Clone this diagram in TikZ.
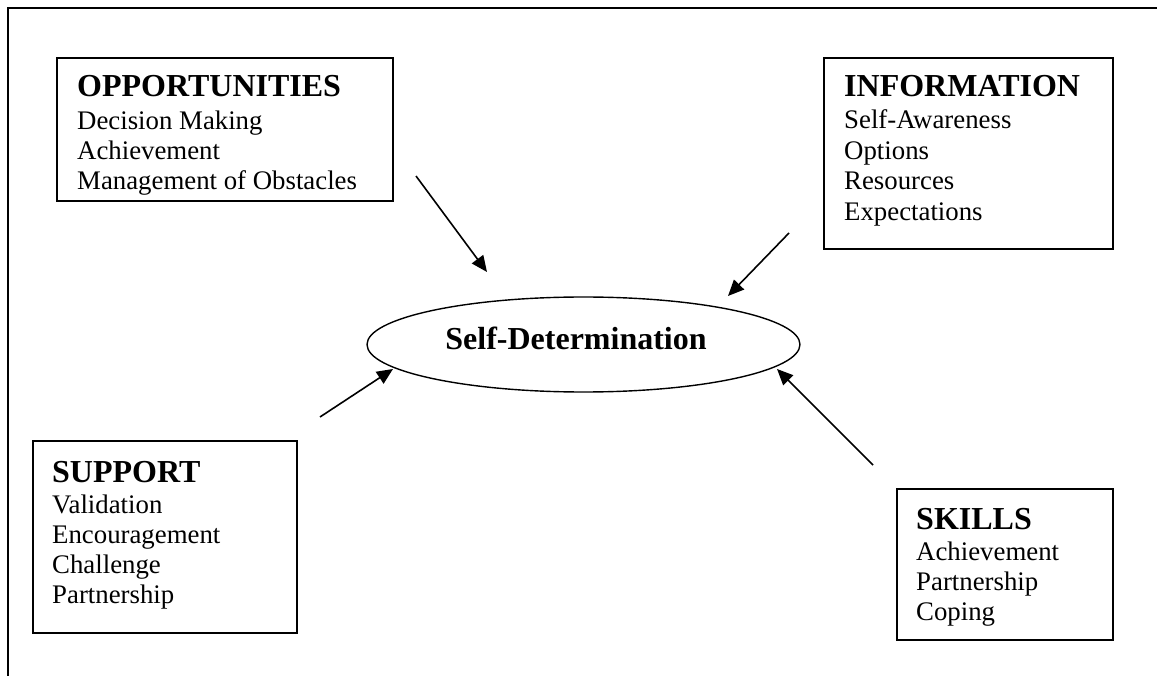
\documentclass[tikz,border=0pt]{standalone}
\usepackage{fontspec}
\setmainfont{Liberation Serif}
\usetikzlibrary{arrows.meta,shapes.geometric}
\tikzset{
  box/.style={draw, line width=1.6pt, fill=white, inner sep=0pt, anchor=north west},
  head/.style={anchor=base west, inner sep=0pt, font=\fontsize{32}{36}\selectfont\bfseries},
  item/.style={anchor=base west, inner sep=0pt, font=\fontsize{26.8}{30}\selectfont},
  link/.style={line width=1.6pt, -{Triangle[length=16pt,width=14pt]}},
  frame/.style={line width=2pt},
}
\begin{document}
\begin{tikzpicture}[x=1pt,y=-1pt]
\useasboundingbox (0,0) rectangle (1157,676);

% outer frame (top and left sides)
\draw[frame] (1157,8) -- (8,8) -- (8,676);

% boxes
\node[box, minimum width=336pt, minimum height=143pt] (opp)  at (56,57)   {};
\node[box, minimum width=289pt, minimum height=191pt] (info) at (823,57)  {};
\node[box, minimum width=264pt, minimum height=192pt] (supp) at (32,440)  {};
\node[box, minimum width=216pt, minimum height=151pt] (skil) at (896,488) {};

% OPPORTUNITIES (text clipped by the box's inner margin)
\begin{scope}
  \clip (56,57) rectangle (392,195);
  \node[head] (opp-h) at (77,97) {OPPORTUNITIES};
  \foreach \t [count=\i] in {Decision Making, Achievement, Management of Obstacles}
    \node[item] (opp-\i) at (77,{129.5+30*(\i-1)}) {\t};
\end{scope}

% INFORMATION
\node[head] (info-h) at (844,97) {INFORMATION};
\foreach \t [count=\i] in {Self-Awareness, Options, Resources, Expectations}
  \node[item] (info-\i) at (844,{129+30.5*(\i-1)}) {\t};

% SUPPORT
\node[head] (supp-h) at (52,482) {SUPPORT};
\foreach \t [count=\i] in {Validation, Encouragement, Challenge, Partnership}
  \node[item] (supp-\i) at (52,{513+30.3*(\i-1)}) {\t};

% SKILLS
\node[head] (skil-h) at (916,529) {SKILLS};
\foreach \t [count=\i] in {Achievement, Partnership, Coping}
  \node[item] (skil-\i) at (916,{560+30*(\i-1)}) {\t};

% central ellipse
\node[draw, ellipse, line width=1.4pt, minimum width=433pt, minimum height=95pt, inner sep=0pt]
  (sd) at (583.5,344.5) {};
\node[anchor=base, inner sep=0pt, font=\fontsize{32}{36}\selectfont\bfseries]
  (sd-label) at (576,349) {Self-Determination};

% arrows pointing to the ellipse
\coordinate (a1) at (416,176); \coordinate (t1) at (487,272);
\coordinate (a2) at (789,233); \coordinate (t2) at (728,296);
\coordinate (a3) at (320,417); \coordinate (t3) at (393,369);
\coordinate (a4) at (873,465); \coordinate (t4) at (777,369);
\draw[link] (a1) -- (t1);
\draw[link] (a2) -- (t2);
\draw[link] (a3) -- (t3);
\draw[link] (a4) -- (t4);
\end{tikzpicture}
\end{document}
